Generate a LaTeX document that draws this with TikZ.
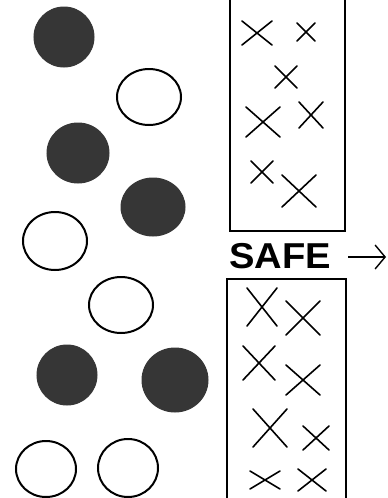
\documentclass[tikz,border=0pt]{standalone}
\usepackage{fontspec}
\setmainfont{Liberation Sans}
\usetikzlibrary{arrows.meta}
\definecolor{ballfill}{HTML}{363636}
\tikzset{
  full/.style={fill=ballfill,draw=ballfill,line width=1pt},
  hollow/.style={draw=black,line width=2pt,fill=white},
  boxline/.style={draw=black,line width=2pt},
  xline/.style={draw=black,line width=1.6pt,line cap=round},
  safelabel/.style={font=\fontsize{36}{36}\selectfont\bfseries,inner sep=0pt,anchor=base west,xscale=1.06},
}
\begin{document}
\begin{tikzpicture}[x=1pt,y=-1pt]
\useasboundingbox (0,0) rectangle (388,498);
% filled balls
\foreach \cx/\cy/\rx/\ry in {64/37/30/30, 78/153/31/30, 153/207/32/29, 67/375/30/30, 175/380/33/32}
  \draw[full] (\cx,\cy) ellipse[x radius=\rx, y radius=\ry];
% open balls
\foreach \cx/\cy/\rx/\ry in {149/97/32/28, 55/241/32/29, 121/305/32/28, 46/469/30/28, 128/468/30/29}
  \draw[hollow] (\cx,\cy) ellipse[x radius=\rx, y radius=\ry];
% boxes
\draw[boxline] (230,0) -- (230,231) -- (345,231) -- (345,0);
\draw[boxline] (227,498) -- (227,279) -- (346,279) -- (346,498);
% crosses
\foreach \cx/\cy/\hx/\hy in {257/33/15/12, 306/32/9/9, 286/77/11/11, 263/122/17/15, 311/115/12/13, 262/172/11/11, 299/191/17/16,
  262/307/15/19, 303/318/17/17, 259/363/16/17, 303/380/17/15, 270/428/17/19, 316/438/13/12, 265/480/15/9, 312/480/14/11}
  \draw[xline] (\cx-\hx,\cy-\hy) -- (\cx+\hx,\cy+\hy) (\cx+\hx,\cy-\hy) -- (\cx-\hx,\cy+\hy);
% label and arrow
\node[safelabel] (safe) at (229,268) {SAFE};
\coordinate (arrowend) at (386,257);
\draw[line width=1.4pt,-{Straight Barb[length=10pt,width=24pt]}] (348,257) -- (arrowend);
\end{tikzpicture}
\end{document}
